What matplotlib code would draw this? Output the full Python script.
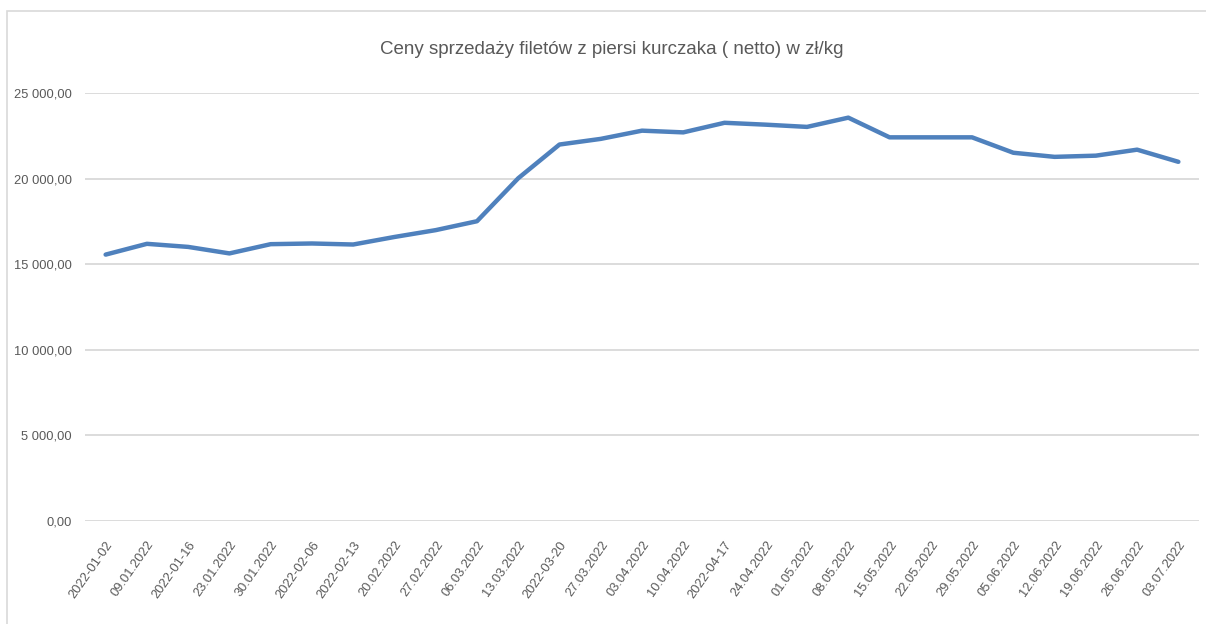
import matplotlib.pyplot as plt
import matplotlib.patches as mpatches
from matplotlib.ticker import FuncFormatter

dates = [
    "2022-01-02", "09.01.2022", "2022-01-16", "23.01.2022", "30.01.2022",
    "2022-02-06", "2022-02-13", "20.02.2022", "27.02.2022", "06.03.2022",
    "13.03.2022", "2022-03-20", "27.03.2022", "03.04.2022", "10.04.2022",
    "2022-04-17", "24.04.2022", "01.05.2022", "08.05.2022", "15.05.2022",
    "22.05.2022", "29.05.2022", "05.06.2022", "12.06.2022", "19.06.2022",
    "26.06.2022", "03.07.2022",
]
prices = [
    15560, 16190, 16010, 15630, 16170,
    16210, 16150, 16590, 16990, 17510,
    20020, 21990, 22320, 22800, 22700,
    23260, 23150, 23020, 23560, 22410,
    22410, 22410, 21510, 21270, 21340,
    21690, 20980,
]
yticks = [0, 5000, 10000, 15000, 20000, 25000]

title = "Ceny sprzedaży filetów z piersi kurczaka ( netto) w zł/kg"
text_color = "#595959"

plt.rcParams["font.family"] = ["Liberation Sans", "DejaVu Sans"]

fig = plt.figure(figsize=(12.06, 6.24), dpi=100)
W, H = 1206, 624

# ramka obszaru wykresu (jak w Excelu)
fig.patches.append(mpatches.Rectangle(
    (7 / W, -0.1), 1.1, 1 - 11 / H + 0.1, transform=fig.transFigure,
    fill=False, edgecolor="#d9d9d9", linewidth=1.2))

ax = fig.add_axes([85 / W, 1 - 521 / H, (1199 - 85) / W, (521 - 93) / H])

x = list(range(len(dates)))
ax.plot(x, prices, color="#4f81bd", linewidth=3.2, solid_capstyle="round",
        solid_joinstyle="round", zorder=3)

ax.set_xlim(-0.5, len(dates) - 0.5)
ax.set_ylim(0, 25000)
ax.set_yticks(yticks)
ax.yaxis.set_major_formatter(FuncFormatter(
    lambda v, p: f"{v:,.2f}".replace(",", " ").replace(".", ",")))
ax.set_xticks(x)
ax.set_xticklabels(dates, rotation=55, ha="right", rotation_mode="anchor")

ax.grid(axis="y", color="#d9d9d9", linewidth=1.3)
ax.set_axisbelow(True)
for s in ax.spines.values():
    s.set_visible(False)
ax.tick_params(axis="both", length=0, colors=text_color, labelsize=9.3)
ax.tick_params(axis="y", pad=9.5)
ax.tick_params(axis="x", pad=13)

fig.text(612 / W, 1 - 50 / H, title, ha="center", va="center",
         fontsize=13.5, color=text_color)

fig.savefig("out.png", dpi=100)
